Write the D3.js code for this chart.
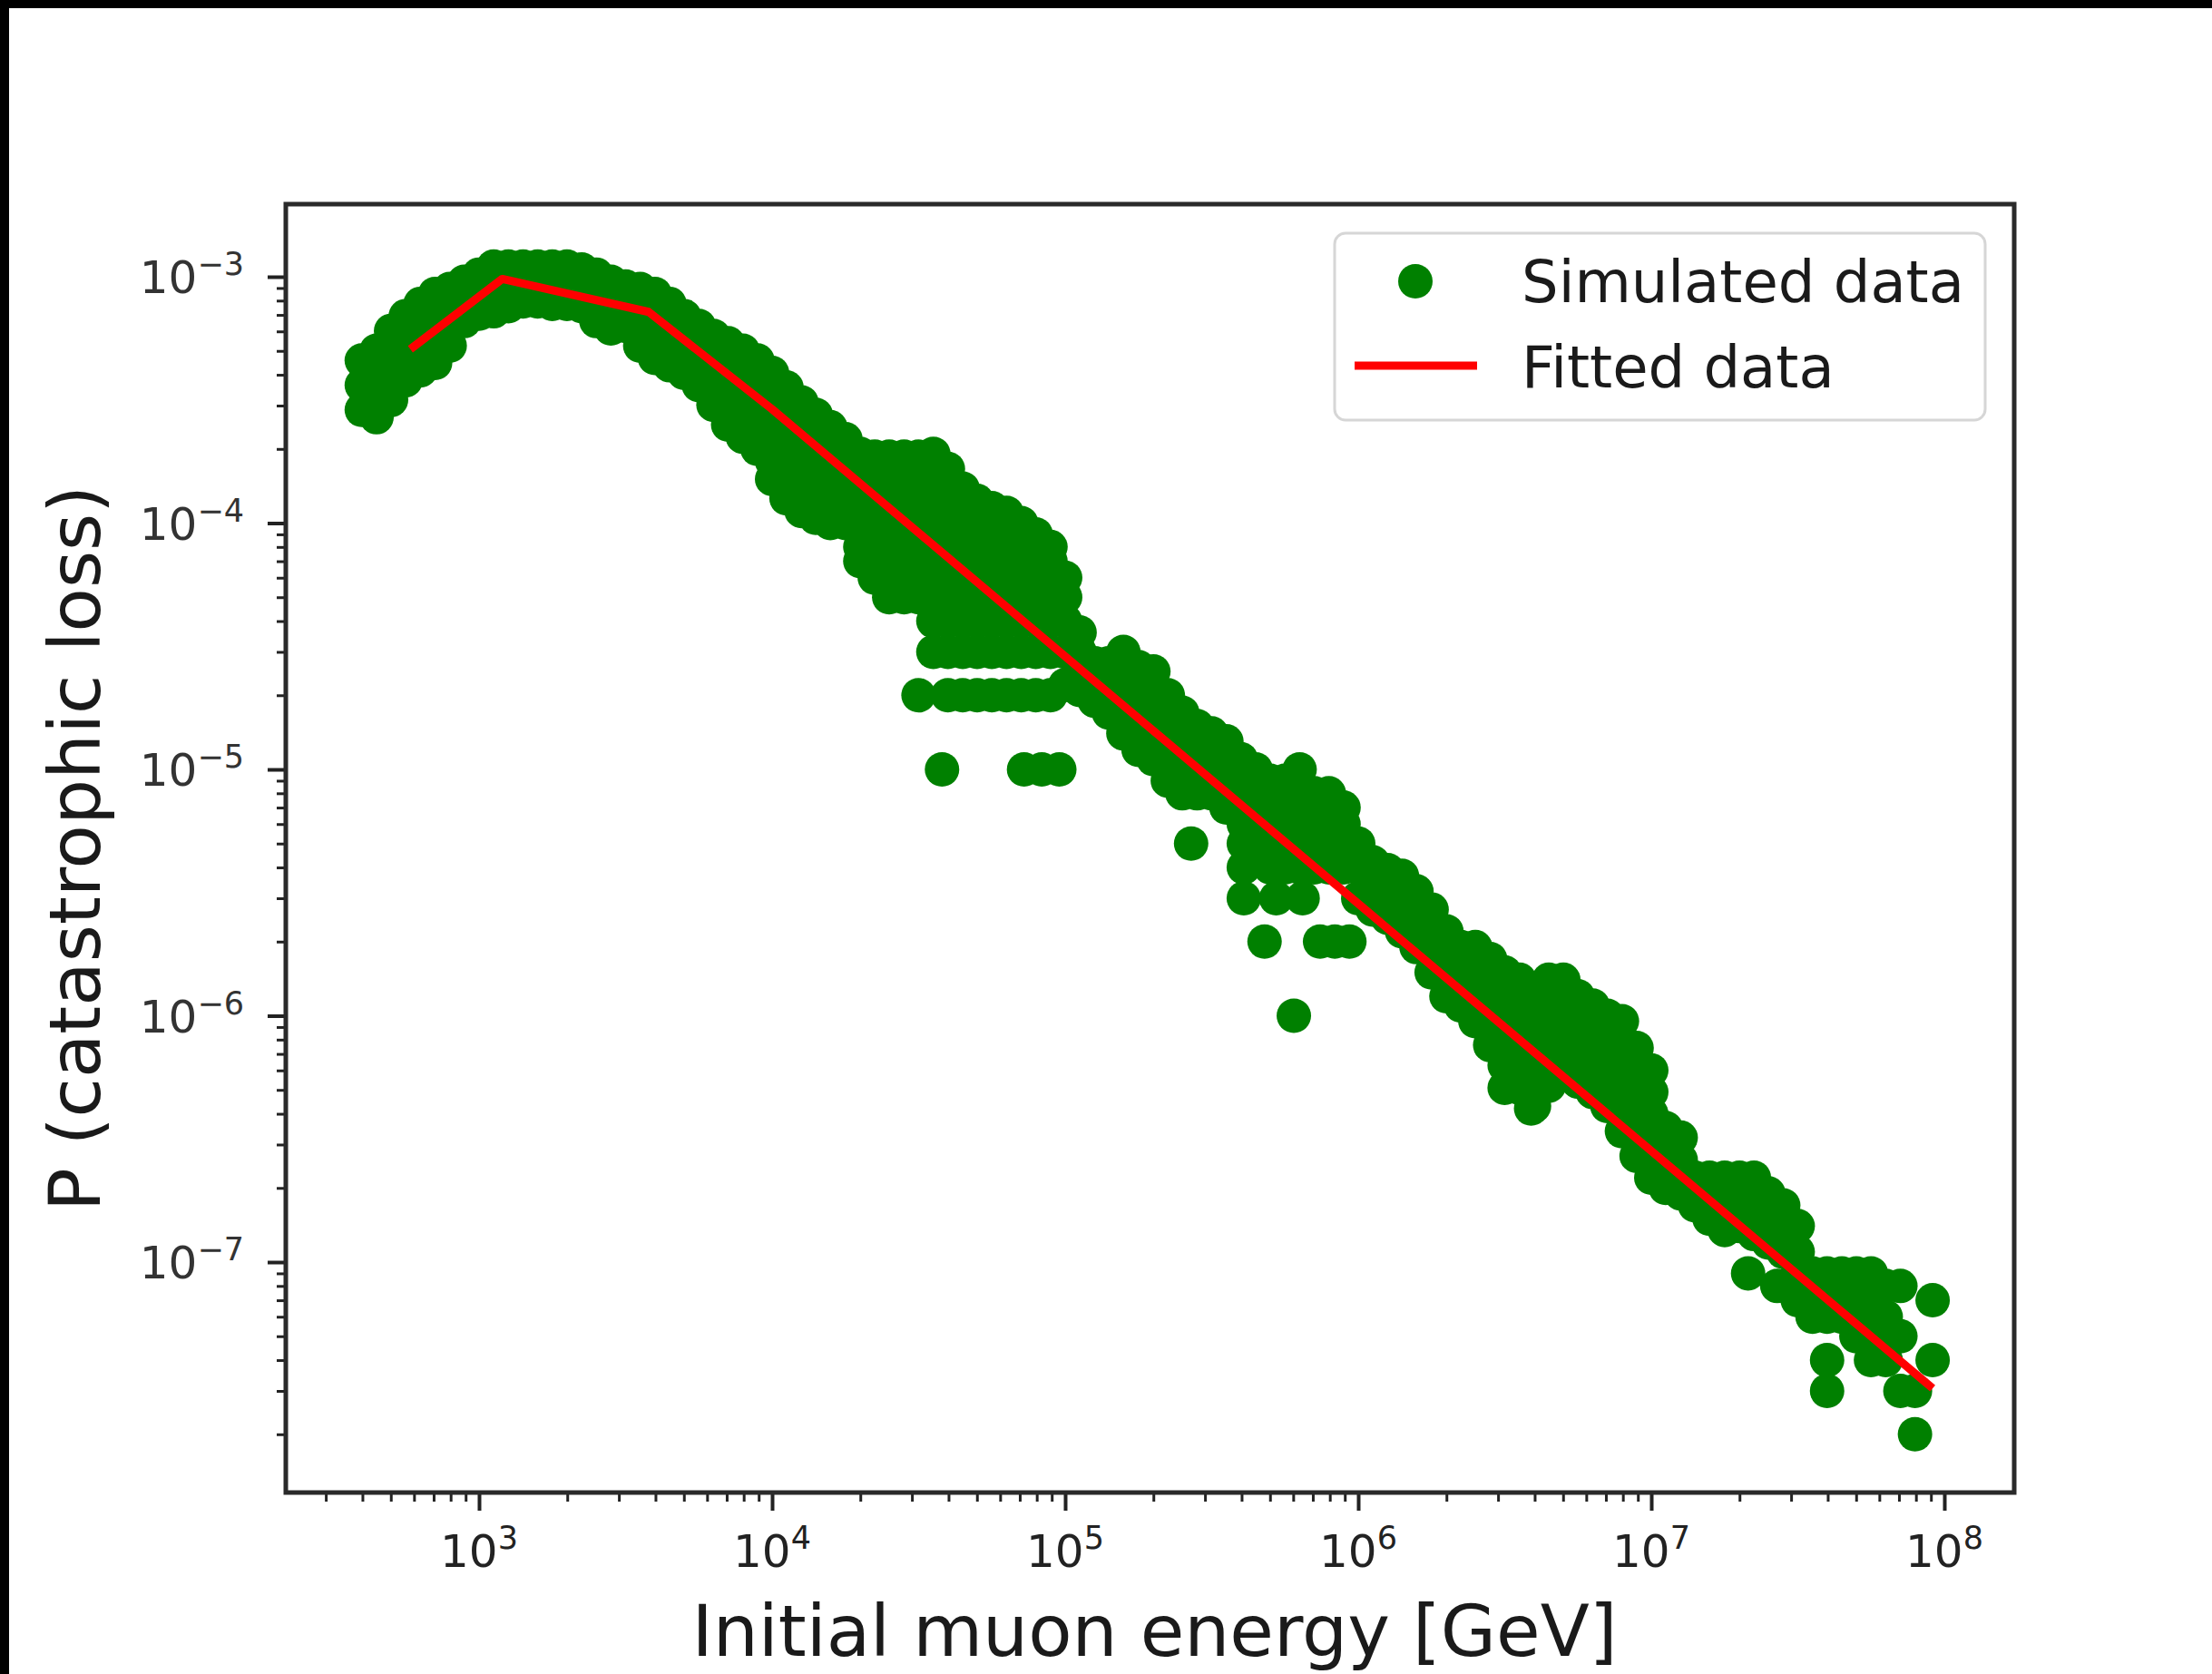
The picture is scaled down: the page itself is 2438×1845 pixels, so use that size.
<!DOCTYPE html>
<html>
<head>
<meta charset="utf-8">
<script src="https://cdn.jsdelivr.net/npm/d3@7"></script>
<style>
  html, body { margin: 0; padding: 0; background: #fff; }
  svg { display: block; }
  text { font-family: "DejaVu Sans", sans-serif; }
</style>
</head>
<body>
<svg id="canvas" width="2438" height="1845"></svg>
<script>
// Simulated data: [initial muon energy (GeV), P(catastrophic loss)]
const simulated = [
  [398, 4.57e-4], [398, 3.63e-4], [398, 2.88e-4],
  [447, 5.01e-4], [447, 3.98e-4], [447, 3.16e-4], [447, 2.69e-4],
  [501, 6.03e-4], [501, 4.79e-4], [501, 3.80e-4], [501, 3.16e-4],
  [562, 6.92e-4], [562, 5.50e-4], [562, 4.57e-4], [562, 3.80e-4],
  [631, 7.76e-4], [631, 6.31e-4], [631, 5.13e-4], [631, 4.17e-4],
  [708, 8.51e-4], [708, 6.92e-4], [708, 5.62e-4], [708, 4.47e-4],
  [794, 8.91e-4], [794, 7.41e-4], [794, 6.17e-4], [794, 5.25e-4],
  [891, 9.55e-4], [891, 7.94e-4], [891, 6.61e-4],
  [1000, 1.02e-3], [1000, 8.51e-4], [1000, 7.08e-4],
  [1122, 1.10e-3], [1122, 8.91e-4], [1122, 7.24e-4],
  [1259, 1.10e-3], [1259, 9.12e-4], [1259, 7.59e-4],
  [1413, 1.10e-3], [1413, 9.33e-4], [1413, 7.94e-4],
  [1585, 1.10e-3], [1585, 9.33e-4], [1585, 7.94e-4],
  [1778, 1.10e-3], [1778, 9.33e-4], [1778, 7.76e-4],
  [1995, 1.10e-3], [1995, 9.12e-4], [1995, 7.76e-4],
  [2239, 1.07e-3], [2239, 8.91e-4], [2239, 7.59e-4],
  [2512, 1.02e-3], [2512, 8.13e-4], [2512, 6.61e-4],
  [2818, 9.55e-4], [2818, 7.76e-4], [2818, 6.17e-4],
  [3162, 9.12e-4], [3162, 7.59e-4], [3162, 6.31e-4],
  [3548, 8.91e-4], [3548, 7.24e-4], [3548, 6.03e-4], [3548, 5.25e-4],
  [3981, 8.51e-4], [3981, 6.92e-4], [3981, 5.62e-4], [3981, 4.68e-4],
  [4467, 7.76e-4], [4467, 6.31e-4], [4467, 5.25e-4], [4467, 4.37e-4],
  [5012, 6.92e-4], [5012, 5.75e-4], [5012, 4.79e-4], [5012, 4.07e-4],
  [5623, 6.31e-4], [5623, 5.25e-4], [5623, 4.37e-4], [5623, 3.63e-4],
  [6310, 5.75e-4], [6310, 4.68e-4], [6310, 3.72e-4], [6310, 3.02e-4],
  [7079, 5.37e-4], [7079, 4.37e-4], [7079, 3.55e-4], [7079, 2.95e-4], [7079, 2.51e-4],
  [7943, 5.01e-4], [7943, 4.07e-4], [7943, 3.31e-4], [7943, 2.69e-4], [7943, 2.24e-4],
  [8913, 4.57e-4], [8913, 3.72e-4], [8913, 3.02e-4], [8913, 2.45e-4], [8913, 2.00e-4],
  [1.00e4, 4.07e-4], [1.00e4, 3.31e-4], [1.00e4, 2.69e-4], [1.00e4, 2.19e-4], [1.00e4, 1.78e-4], [1.00e4, 1.51e-4],
  [1.12e4, 3.55e-4], [1.12e4, 2.88e-4], [1.12e4, 2.34e-4], [1.12e4, 1.91e-4], [1.12e4, 1.55e-4], [1.12e4, 1.26e-4],
  [1.26e4, 3.09e-4], [1.26e4, 2.51e-4], [1.26e4, 2.04e-4], [1.26e4, 1.66e-4], [1.26e4, 1.35e-4], [1.26e4, 1.12e-4],
  [1.41e4, 2.75e-4], [1.41e4, 2.24e-4], [1.41e4, 1.82e-4], [1.41e4, 1.48e-4], [1.41e4, 1.23e-4], [1.41e4, 1.05e-4],
  [1.58e4, 2.45e-4], [1.58e4, 2.00e-4], [1.58e4, 1.62e-4], [1.58e4, 1.32e-4], [1.58e4, 1.10e-4], [1.58e4, 1.00e-4],
  [1.78e4, 2.19e-4], [1.78e4, 1.78e-4], [1.78e4, 1.45e-4], [1.78e4, 1.20e-4], [1.78e4, 1.00e-4],
  [2.00e4, 1.91e-4], [2.00e4, 1.55e-4], [2.00e4, 1.26e-4], [2.00e4, 1.00e-4], [2.00e4, 8e-5], [2.00e4, 7e-5],
  [2.24e4, 1.86e-4], [2.24e4, 1.51e-4], [2.24e4, 1.23e-4], [2.24e4, 1.00e-4], [2.24e4, 8e-5], [2.24e4, 7e-5], [2.24e4, 6e-5],
  [2.51e4, 1.86e-4], [2.51e4, 1.51e-4], [2.51e4, 1.23e-4], [2.51e4, 1.00e-4], [2.51e4, 8e-5], [2.51e4, 7e-5], [2.51e4, 6e-5], [2.51e4, 5e-5],
  [2.82e4, 1.86e-4], [2.82e4, 1.51e-4], [2.82e4, 1.23e-4], [2.82e4, 1.00e-4], [2.82e4, 8e-5], [2.82e4, 6e-5], [2.82e4, 5e-5],
  [3.16e4, 1.86e-4], [3.16e4, 1.51e-4], [3.16e4, 1.23e-4], [3.16e4, 1.00e-4], [3.16e4, 8e-5], [3.16e4, 6e-5], [3.16e4, 5e-5], [3.16e4, 2e-5],
  [3.55e4, 1.91e-4], [3.55e4, 1.55e-4], [3.55e4, 1.26e-4], [3.55e4, 1.00e-4], [3.55e4, 8e-5], [3.55e4, 6e-5], [3.55e4, 5e-5], [3.55e4, 4e-5], [3.55e4, 3e-5],
  [3.80e4, 1e-5],
  [3.98e4, 1.66e-4], [3.98e4, 1.35e-4], [3.98e4, 1.10e-4], [3.98e4, 9e-5], [3.98e4, 7e-5], [3.98e4, 6e-5], [3.98e4, 5e-5], [3.98e4, 4e-5], [3.98e4, 3e-5], [3.98e4, 2e-5],
  [4.47e4, 1.38e-4], [4.47e4, 1.12e-4], [4.47e4, 9e-5], [4.47e4, 7e-5], [4.47e4, 6e-5], [4.47e4, 5e-5], [4.47e4, 4e-5], [4.47e4, 3e-5], [4.47e4, 2e-5],
  [5.01e4, 1.23e-4], [5.01e4, 1.00e-4], [5.01e4, 8e-5], [5.01e4, 7e-5], [5.01e4, 6e-5], [5.01e4, 5e-5], [5.01e4, 4e-5], [5.01e4, 3e-5], [5.01e4, 2e-5],
  [5.62e4, 1.15e-4], [5.62e4, 9e-5], [5.62e4, 7e-5], [5.62e4, 6e-5], [5.62e4, 5e-5], [5.62e4, 4e-5], [5.62e4, 3e-5], [5.62e4, 2e-5],
  [6.31e4, 1.10e-4], [6.31e4, 9e-5], [6.31e4, 7e-5], [6.31e4, 6e-5], [6.31e4, 5e-5], [6.31e4, 4e-5], [6.31e4, 3e-5], [6.31e4, 2e-5],
  [7.08e4, 1.00e-4], [7.08e4, 8e-5], [7.08e4, 7e-5], [7.08e4, 6e-5], [7.08e4, 5e-5], [7.08e4, 4e-5], [7.08e4, 3e-5], [7.08e4, 2e-5],
  [7.24e4, 1e-5],
  [7.94e4, 9e-5], [7.94e4, 8e-5], [7.94e4, 6e-5], [7.94e4, 5e-5], [7.94e4, 4e-5], [7.94e4, 3e-5], [7.94e4, 2e-5],
  [8.32e4, 1e-5],
  [8.91e4, 8e-5], [8.91e4, 7e-5], [8.91e4, 6e-5], [8.91e4, 5e-5], [8.91e4, 4e-5], [8.91e4, 3e-5], [8.91e4, 2e-5],
  [9.55e4, 1e-5],
  [1.00e5, 6e-5], [1.00e5, 5e-5], [1.00e5, 4e-5], [1.00e5, 3e-5], [1.00e5, 2.2e-5],
  [1.12e5, 3.6e-5], [1.12e5, 3.0e-5], [1.12e5, 2.5e-5], [1.12e5, 2.1e-5],
  [1.26e5, 2.7e-5], [1.26e5, 2.2e-5], [1.26e5, 1.9e-5],
  [1.41e5, 2.7e-5], [1.41e5, 2.1e-5], [1.41e5, 1.7e-5],
  [1.58e5, 3.0e-5], [1.58e5, 2.5e-5], [1.58e5, 2.1e-5], [1.58e5, 1.7e-5], [1.58e5, 1.4e-5],
  [1.78e5, 2.6e-5], [1.78e5, 2.1e-5], [1.78e5, 1.8e-5], [1.78e5, 1.5e-5], [1.78e5, 1.2e-5],
  [2.00e5, 2.5e-5], [2.00e5, 2.1e-5], [2.00e5, 1.7e-5], [2.00e5, 1.4e-5], [2.00e5, 1.2e-5], [2.00e5, 1.1e-5],
  [2.24e5, 2.0e-5], [2.24e5, 1.6e-5], [2.24e5, 1.3e-5], [2.24e5, 1.1e-5], [2.24e5, 9e-6],
  [2.51e5, 1.7e-5], [2.51e5, 1.4e-5], [2.51e5, 1.1e-5], [2.51e5, 9e-6], [2.51e5, 8e-6],
  [2.69e5, 5e-6],
  [2.82e5, 1.5e-5], [2.82e5, 1.2e-5], [2.82e5, 1.0e-5], [2.82e5, 9e-6], [2.82e5, 8e-6],
  [3.16e5, 1.4e-5], [3.16e5, 1.1e-5], [3.16e5, 1.0e-5], [3.16e5, 8e-6],
  [3.55e5, 1.3e-5], [3.55e5, 1.0e-5], [3.55e5, 9e-6], [3.55e5, 7e-6],
  [3.98e5, 1.1e-5], [3.98e5, 9e-6], [3.98e5, 8e-6], [3.98e5, 7e-6],
  [4.07e5, 6e-6], [4.07e5, 5e-6], [4.07e5, 4e-6], [4.07e5, 3e-6],
  [4.47e5, 1.0e-5], [4.47e5, 8e-6], [4.47e5, 7e-6], [4.47e5, 6e-6], [4.47e5, 5e-6],
  [4.79e5, 2e-6],
  [5.01e5, 9e-6], [5.01e5, 7e-6], [5.01e5, 6e-6], [5.01e5, 5e-6], [5.01e5, 4e-6],
  [5.25e5, 3e-6],
  [5.62e5, 9e-6], [5.62e5, 8e-6], [5.62e5, 6e-6], [5.62e5, 5e-6], [5.62e5, 4e-6],
  [6.03e5, 1e-6],
  [6.31e5, 1.0e-5], [6.31e5, 8e-6], [6.31e5, 7e-6], [6.31e5, 6e-6], [6.31e5, 5e-6], [6.31e5, 4e-6],
  [6.46e5, 3e-6],
  [7.08e5, 8e-6], [7.08e5, 7e-6], [7.08e5, 6e-6], [7.08e5, 5e-6], [7.08e5, 4e-6],
  [7.41e5, 2e-6],
  [7.94e5, 8e-6], [7.94e5, 7e-6], [7.94e5, 6e-6], [7.94e5, 5e-6], [7.94e5, 4e-6],
  [8.32e5, 2e-6],
  [8.91e5, 7e-6], [8.91e5, 6e-6], [8.91e5, 5e-6], [8.91e5, 4e-6],
  [9.33e5, 2e-6],
  [1.00e6, 5e-6], [1.00e6, 4e-6], [1.00e6, 3e-6],
  [1.12e6, 4.2e-6], [1.12e6, 3.4e-6], [1.12e6, 2.7e-6],
  [1.26e6, 3.9e-6], [1.26e6, 3.1e-6], [1.26e6, 2.5e-6],
  [1.41e6, 3.7e-6], [1.41e6, 3.0e-6], [1.41e6, 2.5e-6], [1.41e6, 2.2e-6],
  [1.58e6, 3.2e-6], [1.58e6, 2.6e-6], [1.58e6, 2.2e-6], [1.58e6, 1.9e-6],
  [1.78e6, 2.7e-6], [1.78e6, 2.2e-6], [1.78e6, 1.8e-6], [1.78e6, 1.5e-6],
  [2.00e6, 2.2e-6], [2.00e6, 1.8e-6], [2.00e6, 1.5e-6], [2.00e6, 1.2e-6],
  [2.24e6, 1.9e-6], [2.24e6, 1.6e-6], [2.24e6, 1.3e-6], [2.24e6, 1.1e-6],
  [2.51e6, 1.9e-6], [2.51e6, 1.5e-6], [2.51e6, 1.2e-6], [2.51e6, 9.5e-7],
  [2.82e6, 1.7e-6], [2.82e6, 1.4e-6], [2.82e6, 1.1e-6], [2.82e6, 9.1e-7], [2.82e6, 7.6e-7],
  [3.16e6, 1.5e-6], [3.16e6, 1.2e-6], [3.16e6, 9.8e-7], [3.16e6, 7.9e-7], [3.16e6, 6.3e-7], [3.16e6, 5.1e-7],
  [3.55e6, 1.4e-6], [3.55e6, 1.2e-6], [3.55e6, 9.5e-7], [3.55e6, 7.8e-7], [3.55e6, 6.3e-7], [3.55e6, 5.1e-7],
  [3.89e6, 4.2e-7],
  [3.98e6, 1.15e-6], [3.98e6, 9.3e-7], [3.98e6, 7.6e-7], [3.98e6, 6.2e-7], [3.98e6, 5.1e-7], [3.98e6, 4.3e-7],
  [4.47e6, 1.4e-6], [4.47e6, 1.2e-6], [4.47e6, 9.5e-7], [4.47e6, 7.8e-7], [4.47e6, 6.3e-7], [4.47e6, 5.2e-7],
  [5.01e6, 1.4e-6], [5.01e6, 1.2e-6], [5.01e6, 9.5e-7], [5.01e6, 7.8e-7], [5.01e6, 6.5e-7], [5.01e6, 5.8e-7],
  [5.62e6, 1.2e-6], [5.62e6, 1.0e-6], [5.62e6, 8.1e-7], [5.62e6, 6.6e-7], [5.62e6, 5.4e-7],
  [6.31e6, 1.1e-6], [6.31e6, 9.1e-7], [6.31e6, 7.4e-7], [6.31e6, 6.0e-7], [6.31e6, 4.9e-7],
  [7.08e6, 1.0e-6], [7.08e6, 8.3e-7], [7.08e6, 6.8e-7], [7.08e6, 5.4e-7], [7.08e6, 4.3e-7],
  [7.94e6, 9.5e-7], [7.94e6, 7.8e-7], [7.94e6, 6.3e-7], [7.94e6, 5.1e-7], [7.94e6, 4.2e-7], [7.94e6, 3.4e-7],
  [8.91e6, 7.4e-7], [8.91e6, 6.0e-7], [8.91e6, 4.9e-7], [8.91e6, 4.0e-7], [8.91e6, 3.2e-7], [8.91e6, 2.7e-7],
  [1.00e7, 6.0e-7], [1.00e7, 4.9e-7], [1.00e7, 4.0e-7], [1.00e7, 3.2e-7], [1.00e7, 2.6e-7], [1.00e7, 2.2e-7],
  [1.12e7, 3.5e-7], [1.12e7, 2.9e-7], [1.12e7, 2.4e-7], [1.12e7, 2.0e-7],
  [1.26e7, 3.2e-7], [1.26e7, 2.6e-7], [1.26e7, 2.2e-7], [1.26e7, 1.9e-7],
  [1.41e7, 2.2e-7], [1.41e7, 1.9e-7], [1.41e7, 1.7e-7],
  [1.58e7, 2.2e-7], [1.58e7, 1.9e-7], [1.58e7, 1.5e-7],
  [1.78e7, 2.2e-7], [1.78e7, 1.7e-7], [1.78e7, 1.35e-7],
  [2.00e7, 2.2e-7], [2.00e7, 1.7e-7], [2.00e7, 1.4e-7],
  [2.14e7, 9e-8],
  [2.24e7, 2.2e-7], [2.24e7, 1.7e-7], [2.24e7, 1.3e-7],
  [2.51e7, 1.9e-7], [2.51e7, 1.5e-7], [2.51e7, 1.2e-7],
  [2.69e7, 8e-8],
  [2.82e7, 1.7e-7], [2.82e7, 1.35e-7], [2.82e7, 1.1e-7],
  [3.16e7, 1.4e-7], [3.16e7, 1.1e-7], [3.16e7, 9e-8], [3.16e7, 7e-8],
  [3.55e7, 9e-8], [3.55e7, 7e-8], [3.55e7, 6e-8],
  [3.98e7, 9e-8], [3.98e7, 7e-8], [3.98e7, 6e-8], [3.98e7, 4e-8], [3.98e7, 3e-8],
  [4.47e7, 9e-8], [4.47e7, 7e-8], [4.47e7, 6e-8],
  [5.01e7, 9e-8], [5.01e7, 7e-8], [5.01e7, 6e-8], [5.01e7, 5e-8],
  [5.62e7, 9e-8], [5.62e7, 7e-8], [5.62e7, 6e-8], [5.62e7, 5e-8], [5.62e7, 4e-8],
  [6.31e7, 8e-8], [6.31e7, 6e-8], [6.31e7, 5e-8], [6.31e7, 4e-8],
  [7.08e7, 8e-8], [7.08e7, 5e-8], [7.08e7, 3e-8],
  [7.94e7, 3e-8], [7.94e7, 2e-8],
  [9.12e7, 7e-8], [9.12e7, 4e-8]
];

// Fitted curve (broken power law)
const fitEnergy = [598, 1200, 3790, 1.0e4, 8.9e7];
const fitProb = [5.2e-4, 9.8e-4, 7.2e-4, 2.9e-4, 3.15e-8];

// Decade tick exponents
const xTickExps = [3, 4, 5, 6, 7, 8];
const yTickExps = [-3, -4, -5, -6, -7];

const legendLabels = ['Simulated data', 'Fitted data'];
const xLabel = 'Initial muon energy [GeV]';
const yLabel = 'P (catastrophic loss)';

// Plot frame in pixels
const plotLeft = 315, plotRight = 2220, plotTop = 225, plotBottom = 1645;

const x = d3.scaleLog().domain([10 ** 2.3406, 10 ** 8.2384]).range([plotLeft, plotRight]);
const y = d3.scaleLog().domain([10 ** -2.7053, 10 ** -7.9355]).range([plotTop, plotBottom]);

const svg = d3.select('#canvas');

svg.append('rect').attr('width', 2438).attr('height', 1845).attr('fill', '#fff');
// dark screenshot edges
svg.append('rect').attr('x', 0).attr('y', 0).attr('width', 2438).attr('height', 9).attr('fill', '#000');
svg.append('rect').attr('x', 0).attr('y', 0).attr('width', 10).attr('height', 1845).attr('fill', '#000');

function minorTicks(scale) {
    let [a, b] = scale.domain();
    let lo = Math.min(a, b), hi = Math.max(a, b);
    let out = [];
    for (let e = Math.floor(Math.log10(lo)); e <= Math.ceil(Math.log10(hi)); e++) {
        for (let m = 2; m <= 9; m++) {
            let v = m * Math.pow(10, e);
            if (v >= lo && v <= hi) out.push(v);
        }
    }
    return out;
}

svg.append('clipPath').attr('id', 'plotclip')
    .append('rect')
    .attr('x', plotLeft).attr('y', plotTop)
    .attr('width', plotRight - plotLeft).attr('height', plotBottom - plotTop);

// scatter
svg.append('g')
    .attr('clip-path', 'url(#plotclip)')
    .selectAll('circle')
    .data(simulated)
    .join('circle')
    .attr('cx', d => x(d[0]))
    .attr('cy', d => y(d[1]))
    .attr('r', 19)
    .style('fill', 'green');

// fitted line
const fitPoints = fitEnergy.map((e, i) => [e, fitProb[i]]);
svg.append('path')
    .datum(fitPoints)
    .attr('clip-path', 'url(#plotclip)')
    .attr('d', d3.line().x(d => x(d[0])).y(d => y(d[1])))
    .attr('fill', 'none')
    .attr('stroke', 'red')
    .attr('stroke-width', 9)
    .attr('stroke-linejoin', 'round')
    .attr('stroke-linecap', 'square');

// axes: major + minor ticks
function styleAxis(g, width) {
    g.select('.domain').remove();
    g.selectAll('.tick line').attr('stroke', '#222').attr('stroke-width', width);
    g.selectAll('.tick text').remove();
}

svg.append('g')
    .attr('transform', `translate(0,${plotBottom})`)
    .call(d3.axisBottom(x).tickValues(minorTicks(x)).tickSize(10).tickFormat(''))
    .call(g => styleAxis(g, 3));
svg.append('g')
    .attr('transform', `translate(0,${plotBottom})`)
    .call(d3.axisBottom(x).tickValues(xTickExps.map(e => 10 ** e)).tickSize(20).tickFormat(''))
    .call(g => styleAxis(g, 4));
svg.append('g')
    .attr('transform', `translate(${plotLeft},0)`)
    .call(d3.axisLeft(y).tickValues(minorTicks(y)).tickSize(10).tickFormat(''))
    .call(g => styleAxis(g, 3));
svg.append('g')
    .attr('transform', `translate(${plotLeft},0)`)
    .call(d3.axisLeft(y).tickValues(yTickExps.map(e => 10 ** e)).tickSize(20).tickFormat(''))
    .call(g => styleAxis(g, 4));

// tick labels, 10 with superscript exponent
svg.append('g')
    .selectAll('text')
    .data(xTickExps)
    .join('text')
    .attr('x', d => x(10 ** d))
    .attr('y', 1727)
    .attr('text-anchor', 'middle')
    .attr('font-size', 50)
    .attr('fill', '#222')
    .each(function (d) {
        let t = d3.select(this);
        t.append('tspan').text('10');
        t.append('tspan').attr('font-size', 35).attr('dy', -20).text(String(d));
    });

svg.append('g')
    .selectAll('text')
    .data(yTickExps)
    .join('text')
    .attr('x', 269)
    .attr('y', d => y(10 ** d) + 18)
    .attr('text-anchor', 'end')
    .attr('font-size', 50)
    .attr('fill', '#333')
    .each(function (d) {
        let t = d3.select(this);
        t.append('tspan').text('10');
        t.append('tspan').attr('font-size', 35).attr('dy', -20).text('\u2212' + Math.abs(d));
    });

// frame
svg.append('rect')
    .attr('x', plotLeft).attr('y', plotTop)
    .attr('width', plotRight - plotLeft).attr('height', plotBottom - plotTop)
    .attr('fill', 'none')
    .attr('stroke', '#2a2a2a')
    .attr('stroke-width', 5);

// axis titles
svg.append('text')
    .attr('x', (plotLeft + plotRight) / 2 + 5)
    .attr('y', 1825)
    .attr('text-anchor', 'middle')
    .attr('font-size', 79)
    .attr('fill', '#1a1a1a')
    .text(xLabel);

svg.append('text')
    .attr('transform', `translate(110,${(plotTop + plotBottom) / 2}) rotate(-90)`)
    .attr('text-anchor', 'middle')
    .attr('font-size', 79)
    .attr('fill', '#1a1a1a')
    .text(yLabel);

// legend
const legend = svg.append('g');
legend.append('rect')
    .attr('x', 1471).attr('y', 257)
    .attr('width', 717).attr('height', 206)
    .attr('rx', 12)
    .attr('fill', '#fff')
    .attr('stroke', '#d6d6d6')
    .attr('stroke-width', 3);
legend.append('circle')
    .attr('cx', 1560).attr('cy', 310).attr('r', 19)
    .style('fill', 'green');
legend.append('line')
    .attr('x1', 1493).attr('x2', 1628)
    .attr('y1', 403).attr('y2', 403)
    .attr('stroke', 'red').attr('stroke-width', 9);
legend.selectAll('text.lbl')
    .data(legendLabels)
    .join('text')
    .attr('class', 'lbl')
    .attr('x', 1677)
    .attr('y', (d, i) => 333 + i * 94)
    .attr('font-size', 64)
    .attr('fill', '#1a1a1a')
    .text(d => d);
</script>
</body>
</html>
